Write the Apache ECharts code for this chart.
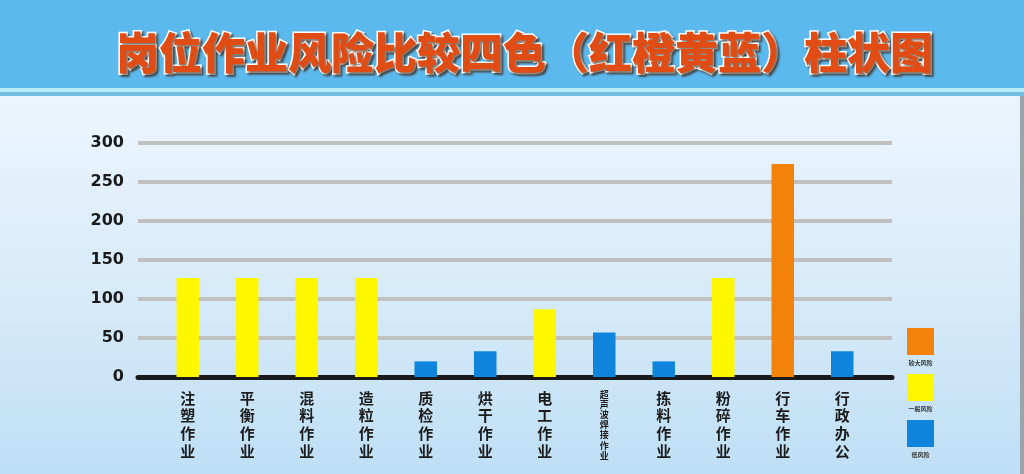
<!DOCTYPE html>
<html><head><meta charset="utf-8">
<script src="https://cdn.jsdelivr.net/npm/echarts@6/dist/echarts.min.js"></script>
<style>html,body{margin:0;padding:0;}#c{width:1024px;height:474px;}</style>
</head><body><div id="c"></div>
<script>
var titleText = '岗位作业风险比较四色（红橙黄蓝）柱状图';
var categories = ['注塑作业','平衡作业','混料作业','造粒作业','质检作业','烘干作业','电工作业','超声波焊接作业','拣料作业','粉碎作业','行车作业','行政办公'];
var values = [127, 127, 127, 127, 20, 33, 87, 57, 20, 127, 273, 33];
var levels = ['一般风险','一般风险','一般风险','一般风险','低风险','低风险','一般风险','低风险','低风险','一般风险','较大风险','低风险'];
var legendNames = ['较大风险','一般风险','低风险'];
var yTicks = [0, 50, 100, 150, 200, 250, 300];

var levelColor = {'较大风险':'#f2820a','一般风险':'#fff700','低风险':'#0e84dc'};

var chart = echarts.init(document.getElementById('c'));
var barData = values.map(function(v,i){ return {value:v, itemStyle:{color:levelColor[levels[i]]}}; });

var legendGraphics = [];
legendNames.forEach(function(n,i){
  var y0 = 328 + i*46;
  legendGraphics.push({type:'rect', left:907, top:y0, shape:{width:27,height:27}, style:{fill:levelColor[n]}});
  legendGraphics.push({type:'text', x:920.5, y:y0+32, style:{text:n, fill:'#333', textAlign:'center', font:'bold 6px "Noto Sans CJK SC"'}});
});

var option = {
  animation:false,
  backgroundColor:{type:'linear',x:0,y:0,x2:0,y2:1,colorStops:[{offset:0,color:'#f4f9fe'},{offset:0.25,color:'#eaf4fd'},{offset:0.6,color:'#d8ebf9'},{offset:1,color:'#bfdff5'}]},
  title:{text:titleText,left:111,top:26,textStyle:{fontFamily:'"Noto Sans CJK SC"',fontSize:43,fontWeight:900,color:'#e04c14',textBorderColor:'#ffffff',textBorderWidth:3,textShadowColor:'rgba(60,30,10,0.6)',textShadowBlur:2,textShadowOffsetX:2,textShadowOffsetY:2}},
  graphic:[
    {type:'rect',left:0,top:0,z:-10,shape:{width:1024,height:88},style:{fill:'#5cb9ee'}},
    {type:'rect',left:0,top:88,z:-10,shape:{width:1024,height:4},style:{fill:'#b6ecf8'}},
    {type:'rect',left:0,top:92,z:-10,shape:{width:1024,height:4},style:{fill:'#74bfe2'}},
    {type:'rect',left:1020,top:96,z:-10,shape:{width:4,height:378},style:{fill:'#9aa4ab'}}
  ].concat(legendGraphics),
  grid:[
    {left:138,right:132,top:143,bottom:97},
    {left:158,right:152,top:143,bottom:97}
  ],
  xAxis:[
    {type:'category',gridIndex:0,data:['_'],axisLine:{show:true,lineStyle:{color:'#1a1a1a',width:5}},axisTick:{show:false},axisLabel:{show:false},splitLine:{show:false}},
    {type:'category',gridIndex:1,data:categories,axisLine:{show:false},axisTick:{show:false},
      axisLabel:{interval:0,margin:12,verticalAlign:'top',
        formatter:function(v){ var k = v.length>4 ? 's' : 'n'; return v.split('').map(function(c){return '{'+k+'|'+c+'}';}).join('\n'); },
        rich:{n:{fontFamily:'"Noto Sans CJK SC"',fontSize:15,fontWeight:'bold',lineHeight:17.7,color:'#1c1c1c'},
              s:{fontFamily:'"Noto Sans CJK SC"',fontSize:9,fontWeight:'bold',lineHeight:10.2,color:'#1c1c1c'}}}}
  ],
  yAxis:[
    {type:'value',gridIndex:0,min:yTicks[0],max:yTicks[yTicks.length-1],interval:yTicks[1]-yTicks[0],
      axisLine:{show:false},axisTick:{show:false},
      axisLabel:{margin:14,color:'#1a1a1a',fontFamily:'"DejaVu Sans"',fontWeight:'bold',fontSize:16},
      splitLine:{show:true,lineStyle:{color:'#c0c0c0',width:4}}},
    {type:'value',gridIndex:1,min:yTicks[0],max:yTicks[yTicks.length-1],interval:yTicks[1]-yTicks[0],show:false,splitLine:{show:false}}
  ],
  series:[
    {type:'bar',xAxisIndex:1,yAxisIndex:1,data:barData,barWidth:22.5,z:3}
  ]
};
chart.setOption(option);
</script>
</body></html>
